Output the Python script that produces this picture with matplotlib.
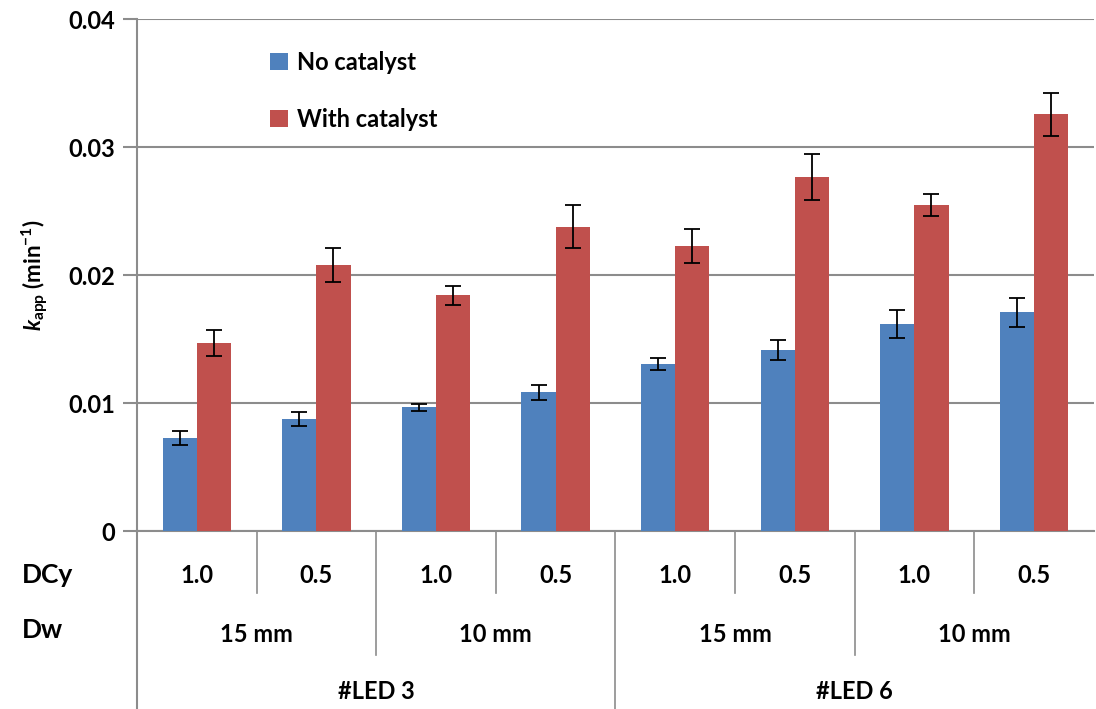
import numpy as np
import matplotlib.pyplot as plt
from matplotlib.transforms import blended_transform_factory

# valores
dcy = ["1.0", "0.5", "1.0", "0.5", "1.0", "0.5", "1.0", "0.5"]
dw = ["15 mm", "10 mm", "15 mm", "10 mm"]
led = ["#LED 3", "#LED 6"]
sin_cat = [0.00726, 0.00874, 0.00968, 0.01083, 0.01304, 0.01414, 0.01618, 0.01710]
sin_err = [0.00056, 0.00056, 0.00028, 0.00056, 0.00047, 0.00077, 0.00106, 0.00113]
con_cat = [0.01470, 0.02081, 0.01841, 0.02379, 0.02228, 0.02769, 0.02548, 0.03255]
con_err = [0.00103, 0.00132, 0.00075, 0.00168, 0.00130, 0.00179, 0.00085, 0.00169]
yticks = [0, 0.01, 0.02, 0.03, 0.04]
ytick_labels = ["0", "0.01", "0.02", "0.03", "0.04"]

plt.rcParams["font.family"] = ["Lato", "DejaVu Sans"]
plt.rcParams["font.weight"] = "bold"
plt.rcParams["mathtext.fontset"] = "custom"
plt.rcParams["mathtext.it"] = "Lato:italic:bold"
plt.rcParams["mathtext.rm"] = "Lato:bold"
plt.rcParams["mathtext.bf"] = "Lato:bold"

gris = "#8c8c8c"
fig = plt.figure(figsize=(10.96, 7.09), dpi=100)
ax = fig.add_axes([0.125, 0.251, 0.873, 0.722])

x = np.arange(len(dcy))
w = 1 / 3.5
err_kw = dict(ecolor="black", elinewidth=1.3, capsize=6, capthick=1.3)
ax.bar(x - w / 2, sin_cat, w, yerr=sin_err, color="#4F81BD", label="No catalyst",
       error_kw=err_kw, zorder=3)
ax.bar(x + w / 2, con_cat, w, yerr=con_err, color="#C0504D", label="With catalyst",
       error_kw=err_kw, zorder=3)

ax.set_xlim(-0.5, len(dcy) - 0.5)
ax.set_ylim(0, 0.04)
ax.set_yticks(yticks)
ax.set_yticklabels(ytick_labels, fontsize=17, fontweight="bold")
ax.set_xticks([])
ax.tick_params(axis="y", length=10, width=1.5, color=gris, pad=6)
ax.grid(axis="y", color=gris, linewidth=1.5, zorder=0)
for s in ["top", "right"]:
    ax.spines[s].set_visible(False)
ax.spines["left"].set_color(gris)
ax.spines["bottom"].set_color(gris)
ax.spines["left"].set_linewidth(1.5)
ax.spines["bottom"].set_linewidth(1.5)

ax.set_ylabel(r"$k_{\mathbf{app}}$ (min$^{\mathbf{-1}}$)", fontsize=16,
              fontweight="bold", labelpad=12)

leg = ax.legend(loc="upper left", bbox_to_anchor=(0.117, 0.98), frameon=False,
                handlelength=0.75, handleheight=0.75, handletextpad=0.4,
                labelspacing=1.45, prop={"weight": "bold", "size": 17})
for t in leg.get_texts():
    t.set_fontweight("bold")

# eje x de varios niveles
tr = blended_transform_factory(ax.transData, ax.transAxes)
ax.plot([-0.5, -0.5], [0, -0.348], color=gris, lw=1.5, transform=tr, clip_on=False)
for i in range(1, len(dcy)):
    if i % 4 == 0:
        fin = -0.348
    elif i % 2 == 0:
        fin = -0.242
    else:
        fin = -0.121
    ax.plot([i - 0.5, i - 0.5], [0, fin], color=gris, lw=1.2, transform=tr, clip_on=False)

for i, t in enumerate(dcy):
    ax.text(i, -0.086, t, transform=tr, ha="center", va="center", fontsize=17,
            fontweight="bold")
for i, t in enumerate(dw):
    ax.text(2 * i + 0.5, -0.203, t, transform=tr, ha="center", va="center", fontsize=17,
            fontweight="bold")
for i, t in enumerate(led):
    ax.text(4 * i + 1.5, -0.314, t, transform=tr, ha="center", va="center", fontsize=17,
            fontweight="bold")

fig.text(22 / 1096, 1 - 575 / 709, "DCy", ha="left", va="center", fontsize=19,
         fontweight="bold")
fig.text(22 / 1096, 1 - 630 / 709, "Dw", ha="left", va="center", fontsize=19,
         fontweight="bold")

plt.savefig("out.png", dpi=100)
